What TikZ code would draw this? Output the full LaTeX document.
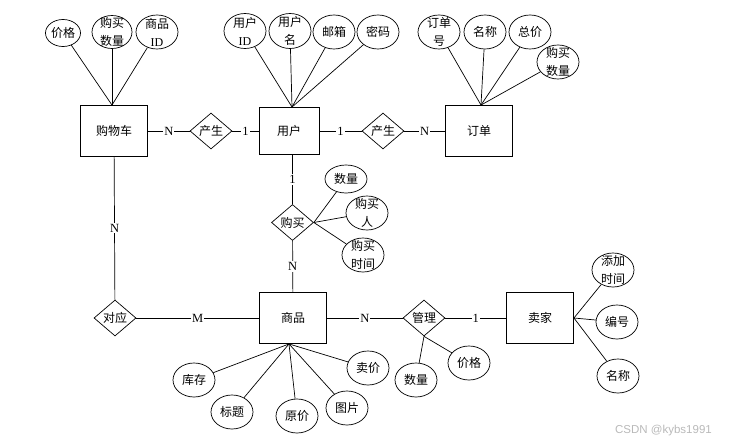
\documentclass[tikz,border=0pt]{standalone}
\usepackage{fontspec}
\setmainfont{Liberation Serif}
\setsansfont{Liberation Sans}
\newfontfamily\cjk{Noto Sans CJK SC}
\usetikzlibrary{shapes.geometric}

\begin{document}
\begin{tikzpicture}[x=1pt, y=-1pt,
		entity/.style={draw, line width=0.9pt, font=\cjk\fontsize{12}{14}\selectfont, minimum width=67pt, minimum height=51pt, inner sep=0pt},
		rel/.style={draw, diamond, aspect=1.15, line width=0.7pt, font=\cjk\fontsize{12}{14}\selectfont, minimum width=42pt, minimum height=36pt, inner sep=0pt},
		attr/.style={draw, ellipse, line width=0.7pt, minimum width=42pt, minimum height=34pt, inner sep=0pt, label={[align=center, inner sep=0pt, font=\cjk\fontsize{12}{18}\selectfont]center:#1}},
		card/.style={midway, fill=white, inner sep=1pt, font=\fontsize{12.5}{14}\selectfont},
		link/.style={line width=0.7pt}]
			\useasboundingbox (0,0) rectangle (729,444);
			
			\node [entity] (gwc) at (114,131) {购物车};
			\node [entity, minimum width=60pt, minimum height=47pt] (yh) at (289,131) {用户};
			\node [entity] (dd) at (479,131) {订单};
			\node [entity] (sp) at (293,318) {商品};
			\node [entity] (mj) at (540,318) {卖家};
			
			\node [rel] (cs1) at (211,131) {产生};
			\node [rel] (cs2) at (383,131) {产生};
			\node [rel] (gm) at (292.5,222.5) {购买};
			\node [rel] (dy) at (115,318) {对应};
			\node [rel] (gl) at (424,318) {管理};
			
			% attributes
			\node [attr=价格, minimum width=35pt, minimum height=27pt] (gwcJg) at (63,33) {};
			\node [attr={购买\\数量}, minimum width=40pt, minimum height=33pt] (gwcSl) at (112,32) {};
			\node [attr={商品\\{\rmfamily ID}}] (gwcId) at (157,32) {};
			
			\node [attr={用户\\{\rmfamily ID}}, minimum height=35pt] (yhId) at (245,31) {};
			\node [attr={用户\\名}, minimum height=35pt] (yhMz) at (290,31) {};
			\node [attr=邮箱] (yhYx) at (334,32) {};
			\node [attr=密码] (yhMm) at (378,32) {};
			
			\node [attr={订单\\号}] (ddBh) at (439,32) {};
			\node [attr=名称] (ddMc) at (485,32) {};
			\node [attr=总价] (ddZj) at (530,32) {};
			\node [attr={购买\\数量}] (ddSl) at (558,62) {};
			
			\node [attr=数量, minimum height=28pt] (gmSl) at (346,179) {};
			\node [attr={购买\\人}] (gmR) at (367,213) {};
			\node [attr={购买\\时间}] (gmSj) at (363,255) {};
			
			\node [attr=库存] (spKc) at (194,380) {};
			\node [attr=标题] (spBt) at (232,412) {};
			\node [attr=原价] (spYj) at (297,416) {};
			\node [attr=图片] (spTp) at (347,408) {};
			\node [attr=卖价] (spMj) at (368,368) {};
			
			\node [attr={添加\\时间}] (mjSj) at (613,270) {};
			\node [attr=编号] (mjBh) at (617,322) {};
			\node [attr=名称] (mjMc) at (618,376) {};
			
			\node [attr=数量] (glSl) at (416,380) {};
			\node [attr=价格] (glJg) at (469,363) {};
			
			\foreach \a in {gwcJg, gwcSl, gwcId} \draw [link] (\a) -- ([xshift=-2pt]gwc.north);
			\foreach \a in {yhId, yhMz, yhYx, yhMm} \draw [link] (\a) -- ([xshift=3pt]yh.north);
			\foreach \a in {ddBh, ddMc, ddZj, ddSl} \draw [link] (\a) -- ([xshift=2pt]dd.north);
			\foreach \a in {gmSl, gmR, gmSj} \draw [link] (gm.east) -- (\a);
			\foreach \a in {spKc, spBt, spYj, spTp, spMj} \draw [link] ([xshift=-4pt]sp.south) -- (\a);
			\foreach \a in {mjSj, mjBh, mjMc} \draw [link] (mj.east) -- (\a);
			\foreach \a in {glSl, glJg} \draw [link] (gl.south) -- (\a);
			
			% relationships
			\draw [link] (gwc) -- (cs1) node [card] {N};
			\draw [link] (cs1) -- (yh) node [card] {1};
			\draw [link] (yh) -- (cs2) node [card] {1};
			\draw [link] (cs2) -- (dd) node [card] {N};
			\draw [link] (gm.north |- yh.south) -- (gm.north) node [card] {1};
			\draw [link] (gm) -- (sp) node [card] {N};
			\draw [link] (gwc) -- (dy) node [card] {N};
			\draw [link] (dy) -- (sp) node [card] {M};
			\draw [link] (sp) -- (gl) node [card] {N};
			\draw [link] (gl) -- (mj) node [card] {1};
			
			\node [font=\sffamily\fontsize{11.5}{12}\selectfont, text=gray!55] (wm) at (663.5,431) {CSDN @kybs1991};
			
		\end{tikzpicture}
\end{document}
